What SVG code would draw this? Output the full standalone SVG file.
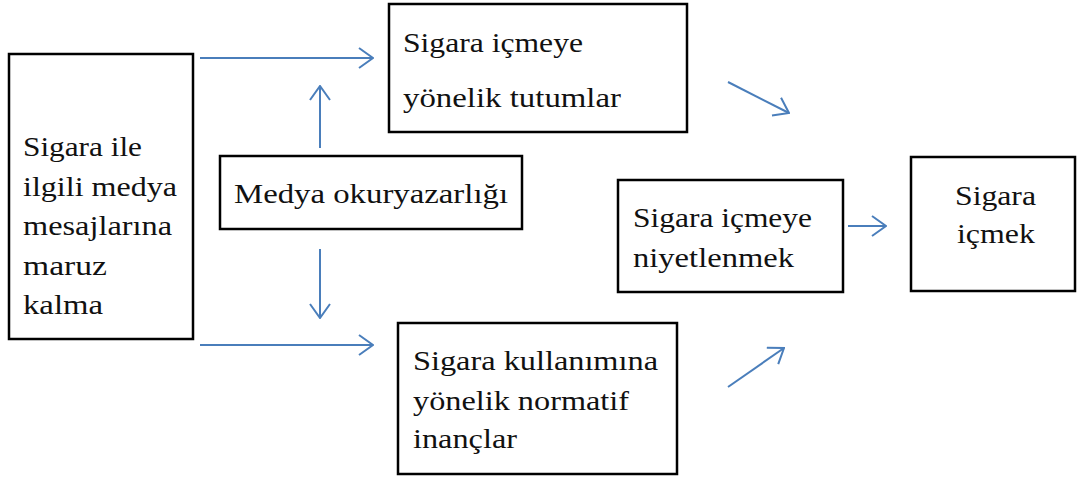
<svg xmlns="http://www.w3.org/2000/svg" width="1077" height="479" viewBox="0 0 1077 479">
<style>
.box{fill:#fff;stroke:#000;stroke-width:2.5}
.t{font-family:'Liberation Serif','Times New Roman','DejaVu Serif',serif;font-size:28px;fill:#111}
.c{fill:none;stroke:#4a7ebb;stroke-width:2;marker-end:url(#ah)}
</style>
<defs>
<marker id="ah" viewBox="0 0 16 22" refX="15" refY="11" markerWidth="16" markerHeight="22" markerUnits="userSpaceOnUse" orient="auto">
<path d="M1,1 L15,11 L1,21" fill="none" stroke="#4a7ebb" stroke-width="2"/>
</marker>
</defs>
<rect width="1077" height="479" fill="#fff"/>
<g id="connectors">
<line class="c" x1="200" y1="58" x2="373" y2="58"/>
<line class="c" x1="200" y1="345" x2="373" y2="345"/>
<line class="c" x1="320" y1="148" x2="320" y2="86"/>
<line class="c" x1="320" y1="249" x2="320" y2="318"/>
<line class="c" x1="728" y1="82" x2="789" y2="113"/>
<line class="c" x1="728" y1="387" x2="784" y2="348"/>
<line class="c" x1="848" y1="226" x2="886" y2="226"/>
</g>
<g id="exposure">
<rect class="box" x="9" y="54" width="184" height="285"/>
<text class="t" x="23" y="156" textLength="119" lengthAdjust="spacingAndGlyphs">Sigara ile</text>
<text class="t" x="23" y="196" textLength="154" lengthAdjust="spacingAndGlyphs">ilgili medya</text>
<text class="t" x="23" y="235" textLength="149" lengthAdjust="spacingAndGlyphs">mesajlarına</text>
<text class="t" x="23" y="275" textLength="84" lengthAdjust="spacingAndGlyphs">maruz</text>
<text class="t" x="23" y="314" textLength="80" lengthAdjust="spacingAndGlyphs">kalma</text>
</g>
<g id="literacy">
<rect class="box" x="220" y="156" width="302" height="73"/>
<text class="t" x="234" y="203" textLength="274" lengthAdjust="spacingAndGlyphs">Medya okuryazarlığı</text>
</g>
<g id="attitudes">
<rect class="box" x="389" y="4" width="298" height="128"/>
<text class="t" x="403" y="52" textLength="180" lengthAdjust="spacingAndGlyphs">Sigara içmeye</text>
<text class="t" x="403" y="107" textLength="218" lengthAdjust="spacingAndGlyphs">yönelik tutumlar</text>
</g>
<g id="norms">
<rect class="box" x="398" y="323" width="279" height="151"/>
<text class="t" x="413" y="370" textLength="245" lengthAdjust="spacingAndGlyphs">Sigara kullanımına</text>
<text class="t" x="413" y="410" textLength="216" lengthAdjust="spacingAndGlyphs">yönelik normatif</text>
<text class="t" x="413" y="448" textLength="104" lengthAdjust="spacingAndGlyphs">inançlar</text>
</g>
<g id="intention">
<rect class="box" x="618" y="180" width="225" height="112"/>
<text class="t" x="633" y="227" textLength="179" lengthAdjust="spacingAndGlyphs">Sigara içmeye</text>
<text class="t" x="633" y="267" textLength="161" lengthAdjust="spacingAndGlyphs">niyetlenmek</text>
</g>
<g id="smoking">
<rect class="box" x="911" y="157" width="164" height="134"/>
<text class="t" x="955" y="205" textLength="81" lengthAdjust="spacingAndGlyphs">Sigara</text>
<text class="t" x="957" y="243" textLength="78" lengthAdjust="spacingAndGlyphs">içmek</text>
</g>
</svg>
